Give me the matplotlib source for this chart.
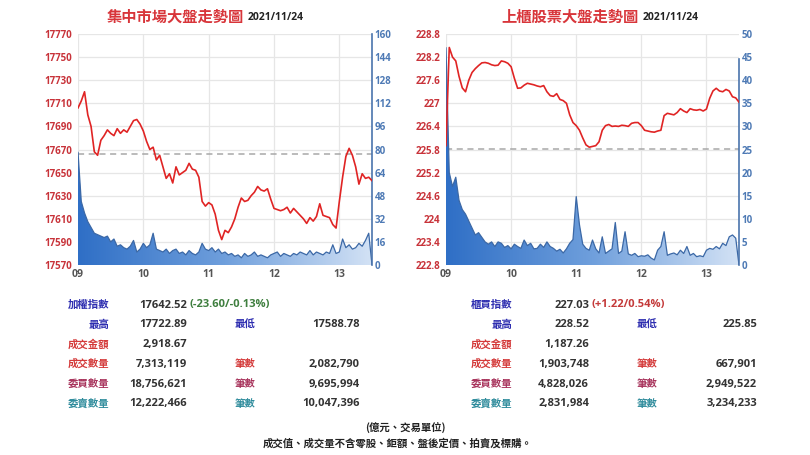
import matplotlib
matplotlib.use("Agg")
import matplotlib.pyplot as plt
import numpy as np
from matplotlib.colors import LinearSegmentedColormap
from matplotlib.patches import PathPatch

CJK = ['Noto Sans CJK TC', 'DejaVu Sans']
plt.rcParams['font.family'] = CJK

# --- data (3-minute samples from 09:00 to 13:30) ---
twse_price = [17706, 17712, 17720, 17700, 17690, 17668, 17665, 17678, 17682, 17687,
              17684, 17682, 17688, 17684, 17687, 17685, 17690, 17695, 17696, 17692,
              17686, 17677, 17670, 17672, 17661, 17665, 17655, 17645, 17649, 17641,
              17655, 17648, 17650, 17652, 17658, 17653, 17652, 17646, 17625, 17621,
              17624, 17622, 17614, 17600, 17592, 17600, 17598, 17603, 17610, 17620,
              17628, 17625, 17626, 17630, 17633, 17638, 17635, 17634, 17636, 17627,
              17619, 17618, 17617, 17618, 17620, 17615, 17619, 17616, 17613, 17610,
              17606, 17611, 17608, 17612, 17623, 17613, 17612, 17611, 17605, 17602,
              17625, 17646, 17664, 17671, 17665, 17655, 17640, 17649, 17645, 17646,
              17643]
twse_vol = [78, 44, 36, 30, 26, 22, 21, 20, 19, 20, 16, 18, 13, 14, 12, 11, 13, 17, 9, 11,
            15, 12, 14, 22, 11, 10, 9, 11, 8, 10, 11, 8, 9, 7, 10, 8, 7, 9, 15, 11,
            10, 12, 9, 11, 8, 9, 7, 8, 6, 7, 5, 8, 6, 7, 9, 6, 7, 6, 5, 7,
            8, 9, 6, 8, 7, 6, 8, 7, 9, 8, 7, 10, 7, 9, 8, 7, 9, 8, 14, 8,
            9, 18, 12, 14, 11, 12, 15, 13, 17, 22, 0]
twse_prev = 17666.12

otc_price = [225.9, 228.45, 228.2, 228.1, 227.7, 227.4, 227.3, 227.6, 227.8, 227.9,
             227.98, 228.05, 228.06, 228.04, 228.0, 227.98, 227.99, 228.1, 228.08, 228.04,
             227.95, 227.65, 227.39, 227.4, 227.47, 227.52, 227.5, 227.48, 227.45, 227.43,
             227.46, 227.3, 227.2, 227.18, 227.25, 227.1, 227.07, 227.0, 226.7, 226.5,
             226.42, 226.3, 226.1, 225.92, 225.86, 225.88, 225.9, 226.0, 226.3, 226.42,
             226.45, 226.4, 226.41, 226.4, 226.43, 226.42, 226.4, 226.48, 226.5, 226.5,
             226.42, 226.3, 226.28, 226.26, 226.25, 226.28, 226.3, 226.68, 226.74, 226.72,
             226.7, 226.76, 226.86, 226.8, 226.76, 226.86, 226.83, 226.82, 226.84, 226.8,
             226.85, 227.13, 227.32, 227.39, 227.32, 227.3, 227.36, 227.32, 227.17, 227.14,
             227.03]
otc_vol = [47, 20, 17, 19, 14, 12, 11, 9.5, 8, 6.5, 7, 6, 5, 4.5, 5, 4, 5, 4.7, 3.8, 4.2,
           3.5, 4.5, 4, 3.6, 5.4, 4.2, 4.7, 3.5, 3.6, 4.5, 3.8, 5, 4, 3.6, 3.0, 3.4, 2.6, 3.5, 4.7, 5.5,
           14.8, 8.7, 4.5, 3.6, 3.2, 5.4, 3.5, 2.6, 6.1, 2.5, 3, 3.5, 9.2, 2.5, 3, 7.2, 2.4, 2.1, 2.5, 1.8,
           2.0, 1.9, 2.2, 1.5, 1.1, 3.2, 4, 7.2, 2.1, 2.4, 2.6, 2.2, 3.2, 2.5, 4.0, 2.1, 2.5, 1.8, 2.0, 1.8,
           3.2, 3.6, 3.4, 4.0, 3.5, 4.7, 4.2, 6.1, 6.5, 5.8, 0]
otc_prev = 225.81

hour_labels = ['09', '10', '11', '12', '13']

twse_labels = ['加權指數', '最高', '成交金額', '成交數量', '委買數量', '委賣數量']
twse_values = ['17642.52', '17722.89', '2,918.67', '7,313,119', '18,756,621', '12,222,466']
twse_change = '(-23.60/-0.13%)'
twse_right_labels = ['最低', '', '筆數', '筆數', '筆數']
twse_right_values = ['17588.78', '', '2,082,790', '9,695,994', '10,047,396']

otc_labels = ['櫃買指數', '最高', '成交金額', '成交數量', '委買數量', '委賣數量']
otc_values = ['227.03', '228.52', '1,187.26', '1,903,748', '4,828,026', '2,831,984']
otc_change = '(+1.22/0.54%)'
otc_right_labels = ['最低', '', '筆數', '筆數', '筆數']
otc_right_values = ['225.85', '', '667,901', '2,949,522', '3,234,233']

label_colors = ['#2e2eb0', '#2e2eb0', '#d43a3a', '#d43a3a', '#a8345c', '#2f8c9c']
NUM = ['Open Sans', 'DejaVu Sans']

W, H = 810, 455
fig = plt.figure(figsize=(W / 100, H / 100), dpi=100)


def px(x, y):
    return x / W, 1 - y / H


def panel(x0, x1, price, vol, prev, ylim, yticks, yfmt, vlim, vticks, vbound):
    ax = fig.add_axes([x0 / W, 1 - 265 / H, (x1 - x0) / W, 231 / H])
    t = np.linspace(0, 270, len(price))
    tv = np.linspace(0, 270, len(vol))
    ax.set_xlim(0, 270)
    ax.set_ylim(*ylim)
    ax.set_yticks(yticks)
    ax.set_yticklabels([yfmt(v) for v in yticks])
    ax.set_xticks([0, 60, 120, 180, 240])
    ax.set_xticklabels(hour_labels)
    ax.grid(True, color='#e6e6e6', lw=0.9)
    for s in ax.spines.values():
        s.set_visible(False)
    ax.tick_params(axis='y', length=0, pad=4, labelsize=7, labelcolor='#c8333a')
    ax.tick_params(axis='x', length=0, pad=3, labelsize=7.5, labelcolor='#555555')
    for lab in ax.get_yticklabels() + ax.get_xticklabels():
        lab.set_fontweight('bold')
        lab.set_family(NUM)
    ax.axhline(prev, color='#a8a8a8', lw=1.1, ls=(0, (4, 3)), zorder=2)

    # volume on the right axis, horizontal gradient fill
    ax2 = ax.twinx()
    ax2.set_ylim(*vlim)
    ax2.set_yticks(vticks)
    for s in ['top', 'left', 'bottom']:
        ax2.spines[s].set_visible(False)
    ax2.spines['right'].set_color('#4a74ad')
    ax2.spines['right'].set_linewidth(1.2)
    ax2.spines['right'].set_bounds(*vbound)
    ax2.tick_params(axis='y', length=0, pad=2, labelsize=7, labelcolor='#4e7ab5')
    for lab in ax2.get_yticklabels():
        lab.set_fontweight('bold')
        lab.set_family(NUM)

    poly = ax2.fill_between(tv, vol, 0, color='none', lw=0)
    cmap = LinearSegmentedColormap.from_list('vg', ['#2f6fc6', '#6f9fdc', '#d3e2f5'])
    img = ax2.imshow(np.linspace(0, 1, 256).reshape(1, -1), cmap=cmap, aspect='auto',
                     extent=[0, 270, 0, vlim[1]], origin='lower', zorder=1)
    patch = PathPatch(poly.get_paths()[0], transform=ax2.transData, fc='none', ec='none')
    ax2.add_patch(patch)
    img.set_clip_path(patch)
    ax2.plot(tv, vol, color='#3b68a6', lw=0.9, zorder=2)
    ax2.set_xlim(0, 270)
    ax2.set_ylim(*vlim)

    # price line on top
    ax3 = ax.twinx()
    ax3.set_ylim(*ylim)
    ax3.axis('off')
    ax3.plot(t, price, color='#e02424', lw=1.2, zorder=3)
    ax3.set_xlim(0, 270)
    return ax


panel(78, 372, twse_price, twse_vol, twse_prev, (17570, 17770), list(range(17570, 17771, 20)),
      lambda v: f'{v}', (0, 160), list(range(0, 161, 16)), (0, 160))
panel(446, 739, otc_price, otc_vol, otc_prev, (222.8, 228.8),
      [222.8, 223.4, 224.0, 224.6, 225.2, 225.8, 226.4, 227.0, 227.6, 228.2, 228.8],
      lambda v: f'{v:g}', (0, 50), list(range(0, 51, 5)), (0, 44.5))

# titles
fig.text(*px(244, 17), '集中市場大盤走勢圖', ha='right', va='center', fontsize=11,
         fontweight='bold', color='#d8353a', family=CJK)
fig.text(*px(248, 17), '2021/11/24', ha='left', va='center', fontsize=7.5,
         fontweight='bold', color='#222222', family=NUM)
fig.text(*px(639, 17), '上櫃股票大盤走勢圖', ha='right', va='center', fontsize=11,
         fontweight='bold', color='#d8353a', family=CJK)
fig.text(*px(643, 17), '2021/11/24', ha='left', va='center', fontsize=7.5,
         fontweight='bold', color='#222222', family=NUM)


def table(lab_right, val_right, lab2_left, val2_right, labels, values, change, change_color,
          r_labels, r_values):
    rows = [305, 324.5, 344, 364, 384, 403.5]
    for i, (lab, val) in enumerate(zip(labels, values)):
        fig.text(*px(lab_right, rows[i]), lab, ha='right', va='center', fontsize=7.5,
                 fontweight='bold', color=label_colors[i], family=CJK)
        fig.text(*px(val_right, rows[i]), val, ha='right', va='center', fontsize=8,
                 fontweight='bold', color='#333333', family=NUM)
    fig.text(*px(val_right + 3, rows[0]), change, ha='left', va='center', fontsize=8,
             fontweight='bold', color=change_color, family=NUM)
    for i, (lab, val) in enumerate(zip(r_labels, r_values)):
        if not lab:
            continue
        fig.text(*px(lab2_left, rows[i + 1]), lab, ha='left', va='center', fontsize=7.5,
                 fontweight='bold', color=label_colors[i + 1], family=CJK)
        fig.text(*px(val2_right, rows[i + 1]), val, ha='right', va='center', fontsize=8,
                 fontweight='bold', color='#333333', family=NUM)


table(109, 187, 235, 360, twse_labels, twse_values, twse_change, '#3f7f3f',
      twse_right_labels, twse_right_values)
table(512, 589, 637, 757, otc_labels, otc_values, otc_change, '#c43a3a',
      otc_right_labels, otc_right_values)

fig.text(*px(405, 428), '(億元、交易單位)', ha='center', va='center', fontsize=7.5,
         fontweight='bold', color='#222222', family=CJK)
fig.text(*px(398, 443), '成交值、成交量不含零股、鉅額、盤後定價、拍賣及標購。', ha='center',
         va='center', fontsize=7.5, fontweight='bold', color='#222222', family=CJK)

fig.savefig('out.png', dpi=100)
